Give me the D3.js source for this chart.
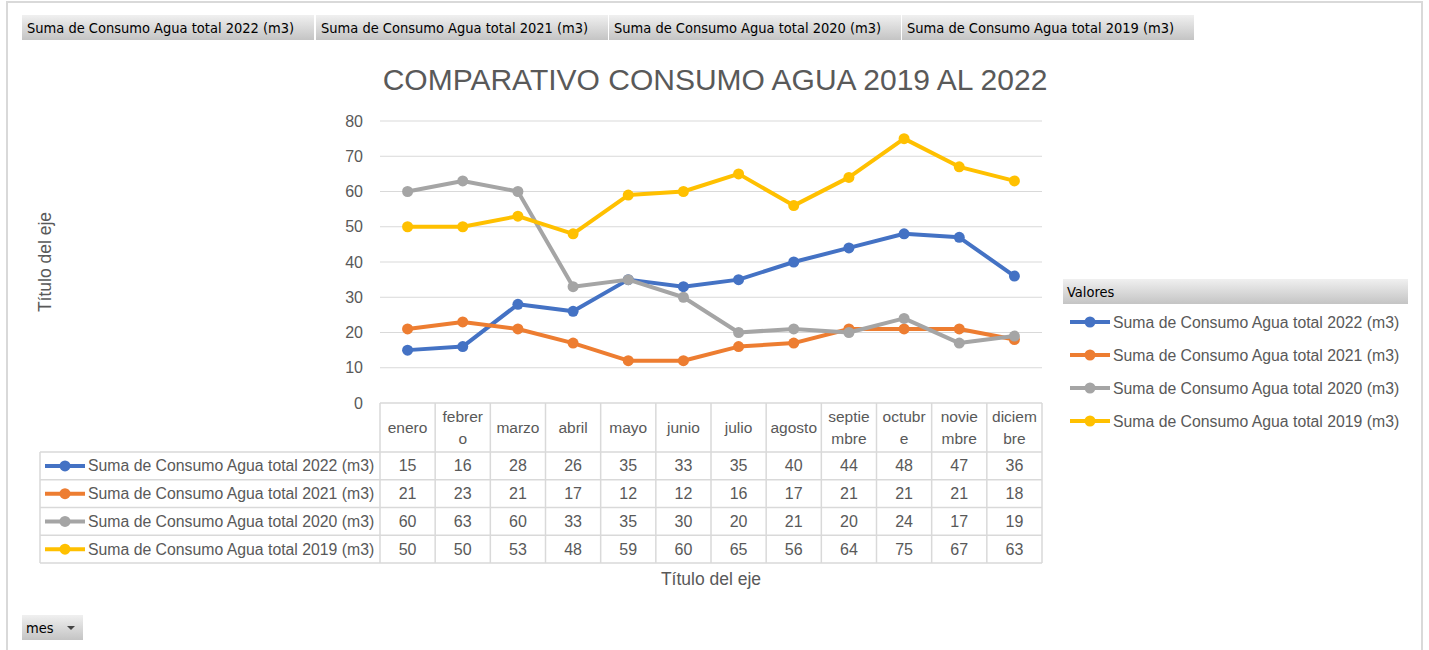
<!DOCTYPE html>
<html>
<head>
<meta charset="utf-8">
<script src="https://cdn.jsdelivr.net/npm/d3@7"></script>
<style>
  body { margin: 0; background: #fff; }
  svg { display: block; }
</style>
</head>
<body>
<div id="chart"></div>
<script>
// Data
const months = ['enero', 'febrero', 'marzo', 'abril', 'mayo', 'junio',
                'julio', 'agosto', 'septiembre', 'octubre', 'noviembre', 'diciembre'];
// how the month names wrap inside their table cell
const monthLines = [['enero'], ['febrer', 'o'], ['marzo'], ['abril'], ['mayo'], ['junio'],
                    ['julio'], ['agosto'], ['septie', 'mbre'], ['octubr', 'e'], ['novie', 'mbre'], ['diciem', 'bre']];
const seriesNames = ['Suma de Consumo Agua total 2022 (m3)', 'Suma de Consumo Agua total 2021 (m3)',
                     'Suma de Consumo Agua total 2020 (m3)', 'Suma de Consumo Agua total 2019 (m3)'];
const values2022 = [15, 16, 28, 26, 35, 33, 35, 40, 44, 48, 47, 36];
const values2021 = [21, 23, 21, 17, 12, 12, 16, 17, 21, 21, 21, 18];
const values2020 = [60, 63, 60, 33, 35, 30, 20, 21, 20, 24, 17, 19];
const values2019 = [50, 50, 53, 48, 59, 60, 65, 56, 64, 75, 67, 63];
const yTicks = [0, 10, 20, 30, 40, 50, 60, 70, 80];
const colors = ['#4472C4', '#ED7D31', '#A5A5A5', '#FFC000'];

const series = seriesNames.map((name, i) => ({
    name: name,
    values: [values2022, values2021, values2020, values2019][i],
    color: colors[i]
}));

const W = 1429, H = 650;
const font = '"Liberation Sans", Arial, sans-serif';
const btnFont = '"DejaVu Sans Condensed", "Liberation Sans Narrow", sans-serif';
const textCol = '#595959';
const lineCol = '#d9d9d9';

const svg = d3.select('#chart').append('svg')
    .attr('width', W)
    .attr('height', H);

// gradient for the pivot buttons
let defs = svg.append('defs');
let grad = defs.append('linearGradient')
    .attr('id', 'btn')
    .attr('x1', 0).attr('y1', 0).attr('x2', 0).attr('y2', 1);
grad.append('stop').attr('offset', '0%').attr('stop-color', '#f0f0f0');
grad.append('stop').attr('offset', '100%').attr('stop-color', '#c4c4c4');

// outer frame
svg.append('rect')
    .attr('x', 7).attr('y', 2)
    .attr('width', 1415).attr('height', 660)
    .style('fill', 'none')
    .style('stroke', '#d9d9d9')
    .style('stroke-width', 2);

// pivot field buttons along the top
let btnX = [22, 316, 609, 902];
let btnW = 292;
let btns = svg.append('g').selectAll('g')
    .data(seriesNames)
    .enter().append('g')
    .attr('transform', (d, i) => 'translate(' + btnX[i] + ',15)');
btns.append('rect')
    .attr('width', btnW).attr('height', 25)
    .style('fill', 'url(#btn)');
btns.append('text')
    .attr('x', 5).attr('y', 18)
    .style('font-family', btnFont)
    .style('font-size', '14.5px')
    .style('fill', '#000')
    .text(d => d);

// "mes" button at the bottom
let mes = svg.append('g').attr('transform', 'translate(22,615)');
mes.append('rect').attr('width', 61).attr('height', 25).style('fill', 'url(#btn)');
mes.append('text')
    .attr('x', 4).attr('y', 18)
    .style('font-family', btnFont)
    .style('font-size', '14.5px')
    .text('mes');
mes.append('path')
    .attr('d', 'M45,11 L53,11 L49,15 Z')
    .style('fill', '#444');

// Title
svg.append('text')
    .attr('x', 715).attr('y', 90)
    .attr('text-anchor', 'middle')
    .style('font-family', font)
    .style('font-size', '30px')
    .style('fill', textCol)
    .text('COMPARATIVO CONSUMO AGUA 2019 AL 2022');

// Scales
let x = d3.scaleBand().domain(months).range([380, 1042]);
let y = d3.scaleLinear().domain([0, 80]).range([403, 121]);
let cx = m => x(m) + x.bandwidth() / 2;

// Gridlines
svg.append('g').selectAll('line')
    .data(yTicks.filter(t => t > 0))
    .enter().append('line')
    .attr('x1', 380).attr('x2', 1042)
    .attr('y1', d => y(d)).attr('y2', d => y(d))
    .style('stroke', lineCol)
    .style('stroke-width', 1);

// Y axis
let yAxis = svg.append('g')
    .attr('transform', 'translate(380,0)')
    .call(d3.axisLeft(y).tickValues(yTicks).tickSize(0).tickPadding(17));
yAxis.select('.domain').remove();
yAxis.selectAll('text')
    .style('font-family', font)
    .style('font-size', '16px')
    .style('fill', textCol);

// Axis titles
svg.append('text')
    .attr('transform', 'translate(51,262) rotate(-90)')
    .attr('text-anchor', 'middle')
    .style('font-family', font)
    .style('font-size', '17.5px')
    .style('fill', textCol)
    .text('Título del eje');

svg.append('text')
    .attr('x', 711).attr('y', 585)
    .attr('text-anchor', 'middle')
    .style('font-family', font)
    .style('font-size', '17.5px')
    .style('fill', textCol)
    .text('Título del eje');

// Lines and markers
let line = d3.line()
    .x((d, i) => cx(months[i]))
    .y(d => y(d));

let sGroups = svg.append('g').selectAll('g')
    .data(series)
    .enter().append('g');
sGroups.append('path')
    .attr('d', d => line(d.values))
    .style('fill', 'none')
    .style('stroke', d => d.color)
    .style('stroke-width', 4)
    .style('stroke-linejoin', 'round');
sGroups.each(function(s) {
    d3.select(this).selectAll('circle')
        .data(s.values)
        .enter().append('circle')
        .attr('cx', (d, i) => cx(months[i]))
        .attr('cy', d => y(d))
        .attr('r', 5.5)
        .style('fill', s.color);
});

// Data table under the chart
let headTop = 403, headBottom = 452;
let rowH = 27.75;
let tableLeft = 40;
let tableRight = 1042;
let rowY = i => headBottom + i * rowH;
let table = svg.append('g');

// horizontal lines
table.append('line')
    .attr('x1', 380).attr('x2', tableRight)
    .attr('y1', headTop).attr('y2', headTop);
table.selectAll('.hline')
    .data(d3.range(series.length + 1))
    .enter().append('line')
    .attr('class', 'hline')
    .attr('x1', tableLeft).attr('x2', tableRight)
    .attr('y1', d => rowY(d)).attr('y2', d => rowY(d));
// vertical lines
table.selectAll('.vline')
    .data(months.concat(['end']))
    .enter().append('line')
    .attr('class', 'vline')
    .attr('x1', d => d === 'end' ? tableRight : x(d))
    .attr('x2', d => d === 'end' ? tableRight : x(d))
    .attr('y1', headTop).attr('y2', rowY(series.length));
table.append('line')
    .attr('x1', tableLeft).attr('x2', tableLeft)
    .attr('y1', headBottom).attr('y2', rowY(series.length));
table.selectAll('line')
    .style('stroke', lineCol)
    .style('stroke-width', 1.5);

// month headers
let heads = table.selectAll('.mhead')
    .data(months)
    .enter().append('text')
    .attr('class', 'mhead')
    .attr('text-anchor', 'middle')
    .style('font-family', font)
    .style('font-size', '15.5px')
    .style('fill', textCol);
heads.each(function(m, i) {
    let parts = monthLines[i];
    let mid = (headTop + headBottom) / 2 + 5;
    parts.forEach((p, j) => {
        d3.select(this).append('tspan')
            .attr('x', cx(m))
            .attr('y', parts.length === 1 ? mid : mid - 11 + j * 22)
            .text(p);
    });
});

// rows: legend key + values
let rows = table.selectAll('.row')
    .data(series)
    .enter().append('g')
    .attr('class', 'row')
    .attr('transform', (d, i) => 'translate(0,' + (rowY(i) + rowH / 2) + ')');
rows.append('line')
    .attr('x1', 45).attr('x2', 85)
    .style('stroke', d => d.color)
    .style('stroke-width', 4);
rows.append('circle')
    .attr('cx', 65).attr('r', 5.5)
    .style('fill', d => d.color);
rows.append('text')
    .attr('x', 88).attr('y', 5.5)
    .style('font-family', font)
    .style('font-size', '15.8px')
    .style('fill', textCol)
    .text(d => d.name);
rows.each(function(s) {
    d3.select(this).selectAll('.val')
        .data(s.values)
        .enter().append('text')
        .attr('class', 'val')
        .attr('x', (d, i) => cx(months[i]))
        .attr('y', 5.5)
        .attr('text-anchor', 'middle')
        .style('font-family', font)
        .style('font-size', '16px')
        .style('fill', textCol)
        .text(d => d);
});

// Legend on the right
let legend = svg.append('g').attr('transform', 'translate(1063,279)');
legend.append('rect')
    .attr('width', 345).attr('height', 25)
    .style('fill', 'url(#btn)');
legend.append('text')
    .attr('x', 4).attr('y', 18)
    .style('font-family', btnFont)
    .style('font-size', '14.5px')
    .text('Valores');
let items = legend.selectAll('.item')
    .data(series)
    .enter().append('g')
    .attr('class', 'item')
    .attr('transform', (d, i) => 'translate(0,' + (43 + i * 33) + ')');
items.append('line')
    .attr('x1', 7).attr('x2', 47)
    .style('stroke', d => d.color)
    .style('stroke-width', 4);
items.append('circle')
    .attr('cx', 27).attr('r', 5.5)
    .style('fill', d => d.color);
items.append('text')
    .attr('x', 50).attr('y', 5.5)
    .style('font-family', font)
    .style('font-size', '15.8px')
    .style('fill', textCol)
    .text(d => d.name);
</script>
</body>
</html>
